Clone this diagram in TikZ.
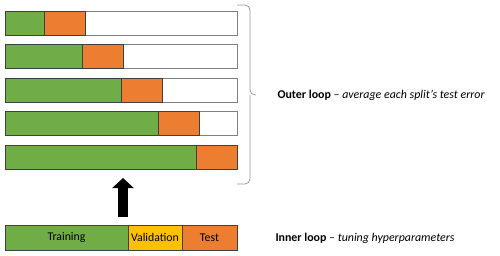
\documentclass[tikz,border=0pt]{standalone}
\usepackage{fontspec}
\setmainfont{Carlito}
\usepackage{tikz}
\usetikzlibrary{arrows.meta,positioning}
\definecolor{splitgreen}{HTML}{70AD47}
\definecolor{splitorange}{HTML}{ED7D31}
\definecolor{splityellow}{HTML}{FFC000}
\definecolor{splitedge}{HTML}{404040}
\tikzset{
  segbox/.style={draw=splitedge, line width=0.7pt, minimum height=24pt, inner sep=0pt, outer sep=0pt, anchor=north west, font=\fontsize{11.8}{13}\selectfont},
  trainbox/.style={segbox, fill=splitgreen},
  testbox/.style={segbox, fill=splitorange},
  valbox/.style={segbox, fill=splityellow},
  framebox/.style={segbox, draw=gray, line width=0.9pt, fill=white, minimum width=232pt},
  label/.style={anchor=west, font=\fontsize{11.9}{14}\selectfont},
  bigarrow/.style={line width=10pt, -{Triangle[width=21pt,length=10pt]}},
  bracepath/.style={draw=gray!80, line width=0.8pt, rounded corners=5pt}
}
\begin{document}
\begin{tikzpicture}[x=1pt,y=-1pt]
  \useasboundingbox (0,0) rectangle (500,255);

  % outer splits
  \foreach \i/\g in {1/39,2/77,3/116,4/153,5/191} {
    \node[framebox] (frame\i) at (5,{11+33.5*(\i-1)}) {};
    \node[trainbox, minimum width=\g pt] (train\i) at (frame\i.north west) {};
    \node[testbox, minimum width=41pt, right=0pt of train\i.north east, anchor=north west] (test\i) {};
  }

  % inner split
  \node[trainbox, minimum width=123pt, minimum height=25pt] (train) at (5,225) {Training};
  \node[valbox, minimum width=54pt, minimum height=25pt, right=0pt of train.north east, anchor=north west] (val) {Validation};
  \node[testbox, minimum width=55pt, minimum height=25pt, right=0pt of val.north east, anchor=north west] (test) {Test};

  \coordinate (arrowfoot) at (123,217);
  \coordinate (arrowtip) at (123,178);
  \draw[bigarrow] (arrowfoot) -- (arrowtip);

  \coordinate (bracetop) at (237,5);
  \coordinate (bracetip) at (256,95);
  \coordinate (bracebot) at (237,184);
  \draw[bracepath] (bracetop) -| (250,95) -- (bracetip);
  \draw[bracepath] (bracebot) -| (250,95);

  \node[label] (outer) at (274,95) {\textbf{Outer loop} -- \textit{average each split’s test error}};
  \node[label] (inner) at (272,238) {\textbf{Inner loop} -- \textit{tuning hyperparameters}};
\end{tikzpicture}
\end{document}
